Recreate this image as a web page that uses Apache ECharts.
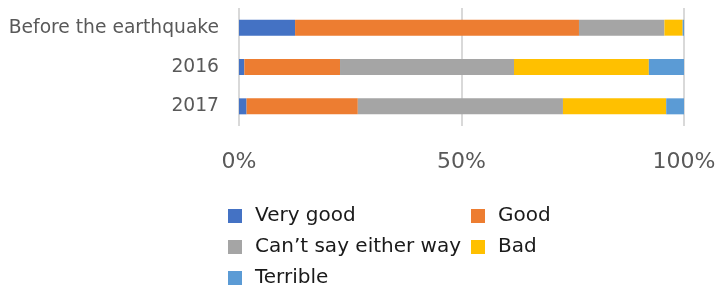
<!DOCTYPE html>
<html>
<head>
<meta charset="utf-8">
<script src="https://cdn.jsdelivr.net/npm/echarts@6/dist/echarts.min.js"></script>
<style>
  html, body { margin: 0; padding: 0; background: #fff; }
  #chart { width: 720px; height: 288px; }
</style>
</head>
<body>
<div id="chart"></div>
<script>
  // categories, top to bottom
  var categories = ['Before the earthquake', '2016', '2017'];
  var seriesNames = ['Very good', 'Good', 'Can’t say either way', 'Bad', 'Terrible'];
  // shares in %
  var veryGood = [12.6, 1.2, 1.7];
  var good = [63.8, 21.5, 25.0];
  var cantSay = [19.2, 39.1, 46.1];
  var bad = [4.1, 30.3, 23.2];
  var terrible = [0.3, 7.9, 4.0];
  var xTicks = [0, 50, 100];

  var colors = ['#4472C4', '#ED7D31', '#A5A5A5', '#FFC000', '#5B9BD5'];
  var values = [veryGood, good, cantSay, bad, terrible];

  var chart = echarts.init(document.getElementById('chart'));

  var legendText = {
    color: '#1a1a1a',
    fontSize: 20,
    fontFamily: 'DejaVu Sans',
    lineHeight: 20,
    padding: [2, 0, 0, 8]
  };

  chart.setOption({
    animation: false,
    color: colors,
    grid: { left: 239, right: 36, top: 8, bottom: 162 },
    legend: [
      {
        orient: 'vertical',
        left: 228, top: 205, height: 90,
        padding: 0,
        itemWidth: 14, itemHeight: 14, itemGap: 9,
        icon: 'rect',
        data: [seriesNames[0], seriesNames[2], seriesNames[4]],
        textStyle: legendText
      },
      {
        orient: 'vertical',
        left: 471, top: 205, height: 90,
        padding: 0,
        itemWidth: 14, itemHeight: 14, itemGap: 9,
        icon: 'rect',
        data: [seriesNames[1], seriesNames[3]],
        textStyle: legendText
      }
    ],
    xAxis: {
      type: 'value',
      min: xTicks[0],
      max: xTicks[xTicks.length - 1],
      interval: 50,
      axisLine: { show: false },
      axisTick: { show: false },
      axisLabel: {
        formatter: '{value}%',
        color: '#595959',
        fontSize: 22,
        fontFamily: 'DejaVu Sans',
        margin: 25
      },
      splitLine: { lineStyle: { color: '#D9D9D9', width: 2 } }
    },
    yAxis: {
      type: 'category',
      inverse: true,
      data: categories,
      axisLine: { show: false },
      axisTick: { show: false },
      axisLabel: {
        color: '#595959',
        fontSize: 18.7,
        fontFamily: 'DejaVu Sans',
        margin: 20
      }
    },
    series: seriesNames.map(function (name, i) {
      return {
        name: name,
        type: 'bar',
        stack: 'total',
        barWidth: 16,
        data: values[i]
      };
    })
  });
</script>
</body>
</html>
